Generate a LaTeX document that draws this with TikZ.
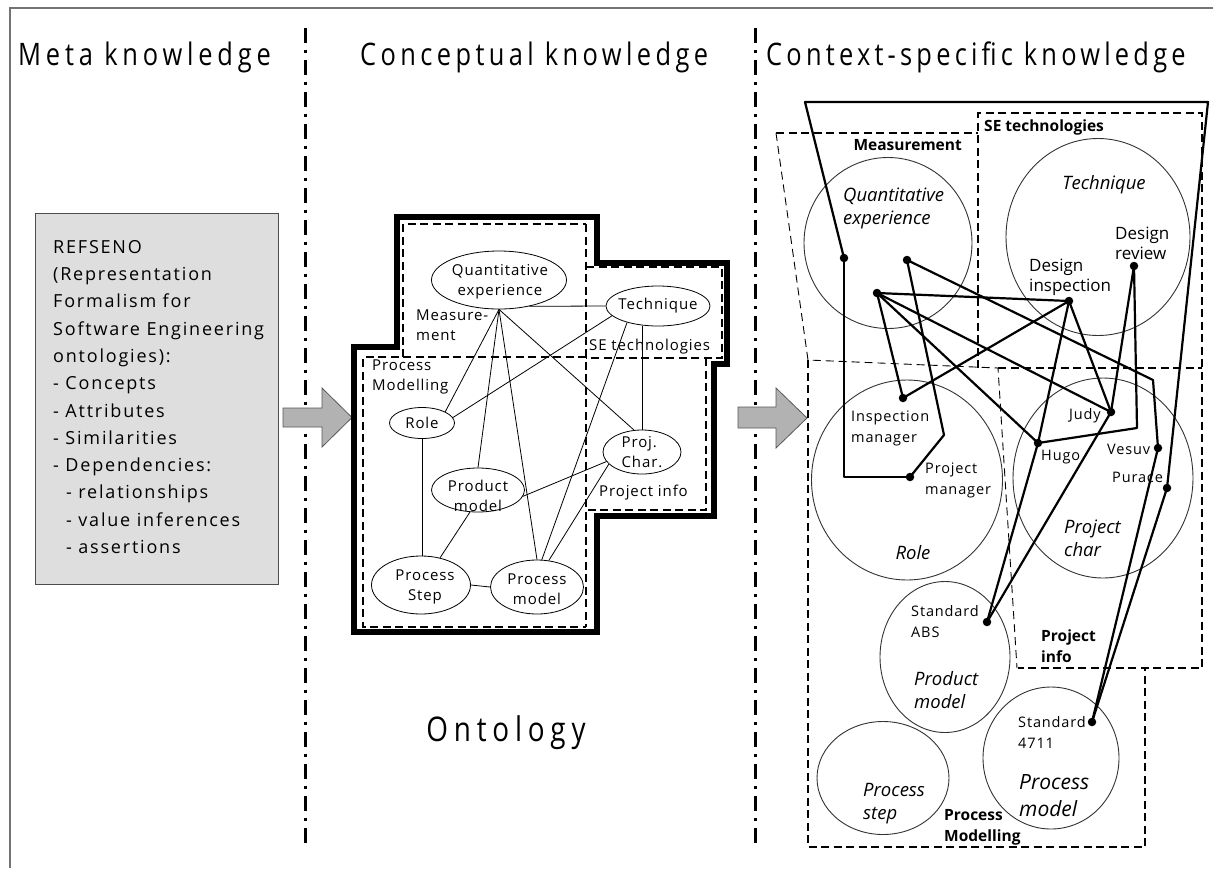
\documentclass[tikz,border=0pt]{standalone}
\usepackage{fontspec}
\setmainfont{Open Sans}
\setsansfont{Open Sans}
\newfontfamily\ttl[FakeStretch=0.82]{Open Sans}
\newfontfamily\lsp[LetterSpace=6]{Open Sans}
\newfontfamily\lspb[LetterSpace=10]{Open Sans}
\usetikzlibrary{shapes.geometric}
\tikzset{
 ell/.style={ellipse, draw=black, line width=0.8pt, inner sep=0pt},
 circ/.style={ellipse, draw=black!80, line width=0.9pt, inner sep=0pt},
 dot/.style={circle, fill=black, inner sep=0pt, minimum size=8.5pt},
 thk/.style={line width=2.2pt, line join=round},
 tdash/.style={line width=2pt, dash pattern=on 8pt off 4.5pt},
 ldash/.style={line width=0.9pt, dash pattern=on 8pt off 5pt},
 sepline/.style={line width=3pt, dash pattern=on 15pt off 7pt on 3pt off 7pt},
 txt/.style={inner sep=0pt, align=left},
 thin/.style={line width=0.8pt},
 blockarrow/.style={fill=black!30, draw=black!65, line width=0.8pt},
 ttlf/.style={font=\ttl\fontsize{31}{36}\selectfont},
 midf/.style={font=\lsp\fontsize{15}{20}\selectfont},
 itf/.style={font=\itshape\fontsize{18.5}{23}\selectfont},
 insf/.style={font=\lsp\fontsize{14.5}{21}\selectfont},
 desf/.style={font=\fontsize{17}{20}\selectfont},
 bldf/.style={font=\bfseries\fontsize{15.5}{21}\selectfont},
}
\begin{document}
\begin{tikzpicture}[x=1pt,y=-1pt]
\fill[white] (0,0) rectangle (1213,868);
\useasboundingbox (0,0) rectangle (1213,868);
% frame
\draw[black!55, line width=1.3pt] (1213,8) -- (10,8) -- (10,868);
% separators
\draw[sepline] (305,28) -- (305,846);
\draw[sepline] (755,28) -- (755,846);
% titles
\node[txt, ttlf, anchor=west] (t1) at (18,57) {\addfontfeatures{LetterSpace=15.5}Meta knowledge};
\node[txt, ttlf, anchor=west] (t2) at (360,57) {\addfontfeatures{LetterSpace=14.2}Conceptual knowledge};
\node[txt, ttlf, anchor=west] (t3) at (766,57) {\addfontfeatures{LetterSpace=13.6}Context-specific knowledge};

% left box
\node[draw=black!70, fill=black!13, line width=0.9pt, minimum width=243pt, minimum height=371pt, anchor=north west, inner sep=0pt] (box) at (35,213) {};
\node[txt, anchor=north west, font=\lspb\fontsize{18}{27.3}\selectfont] (boxt) at (53,240) {REFSENO\\(Representation\\Formalism for\\Software Engineering\\ontologies):\\- Concepts\\- Attributes\\- Similarities\\- Dependencies:\\\ \ - relationships\\\ \ - value inferences\\\ \ - assertions};

% block arrows
\draw[blockarrow] (283,408) -- (322,408) -- (322,388) -- (352,417.5) -- (322,447) -- (322,427) -- (283,427) -- cycle;
\draw[blockarrow] (738,407) -- (776,407) -- (776,388) -- (807,418) -- (776,448) -- (776,428) -- (738,428) -- cycle;

% ===== middle ontology =====
\draw[line width=5.5pt, line join=miter] (397,217) -- (597,217) -- (597,263) -- (727,263) -- (727,364) -- (714,364) -- (714,516) -- (597,516) -- (597,632) -- (354,632) -- (354,347) -- (397,347) -- cycle;
\draw[tdash] (403,357) -- (403,224) -- (586,224);
\draw[tdash] (586,224) -- (586,627);
\draw[tdash] (586,357) -- (363,357) -- (363,627) -- (586,627);
\draw[tdash] (586,267) -- (722,267) -- (722,358) -- (586,358);
\draw[tdash] (706,358) -- (706,510) -- (586,510);

\node[ell, minimum width=135pt, minimum height=58pt] (QE) at (499,280) {};
\node[ell, minimum width=104pt, minimum height=40pt] (TE) at (658,306) {};
\node[ell, minimum width=65pt, minimum height=31pt] (RO) at (422,423) {};
\node[ell, minimum width=78pt, minimum height=44pt] (PC) at (642,452) {};
\node[ell, minimum width=93pt, minimum height=44pt] (PM) at (478,490) {};
\node[ell, minimum width=99pt, minimum height=58pt] (PS) at (421,585) {};
\node[ell, minimum width=93pt, minimum height=54pt] (PR) at (537,587) {};

\node[txt, midf, align=center] (QEt) at (500,282) {Quantitative\\experience};
\node[txt, midf] (TEt) at (658,306) {Technique};
\node[txt, midf] (ROt) at (422,423) {Role};
\node[txt, midf] (PCt) at (642,452) {Proj.\\Char.};
\node[txt, midf, align=center] (PMt) at (478,496) {Product\\model};
\node[txt, midf, align=center] (PSt) at (425,587) {Process\\Step};
\node[txt, midf, align=center] (PRt) at (537,589) {Process\\model};

\node[txt, midf, anchor=north west] (lm) at (416,310) {Measure-\\ment};
\node[txt, midf, anchor=west] (lse) at (589,347) {SE technologies};
\node[txt, midf, anchor=north west] (lpm) at (372,360) {Process\\Modelling};
\node[txt, midf, anchor=west] (lpi) at (599,493) {Project info};
\node[txt, font=\ttl\fontsize{34}{40}\selectfont\addfontfeatures{LetterSpace=17}] (onto) at (506,733) {Ontology};

\draw[thin] (QE.-41) -- (TE.west);
\draw[thin] (QE.south) -- (RO.north east);
\draw[thin] (QE.south) -- (PM.north);
\draw[thin] (QE.south) -- (PR.north);
\draw[thin] (QE.south) -- (PC.110);
\draw[thin] (TE.192) -- (RO.10);
\draw[thin] (TE.208) -- (PR.80);
\draw[thin] (PC.north) -- (PC.north |- TE.south);
\draw[thin] (RO.south) -- (RO.south |- PS.north);
\draw[thin] (PM.250) -- (PS.55);
\draw[thin] (PS.east) -- (PR.west);
\draw[thin] (PM.-8) -- (PC.195);
\draw[thin] (PC.200) -- (PR.66);

% ===== right: context-specific =====
\node[circ, minimum width=168pt, minimum height=171pt] (cQE) at (888,243) {};
\node[circ, minimum width=184pt, minimum height=197pt] (cTE) at (1098,237) {};
\node[circ, minimum width=191pt, minimum height=200pt] (cRO) at (907,480) {};
\node[circ, minimum width=180pt, minimum height=200pt] (cPC) at (1103,478) {};
\node[circ, minimum width=130pt, minimum height=151pt] (cPM) at (945,657) {};
\node[circ, minimum width=132pt, minimum height=113pt] (cPS) at (883,778) {};
\node[circ, minimum width=136pt, minimum height=142pt] (cPR) at (1051,758) {};

% dashed regions
\draw[tdash] (776,133) -- (978,133);
\draw[ldash] (776,133) -- (808,360) -- (998,368) -- (1017,668);
\draw[tdash] (978,368) -- (978,113) -- (1202,113) -- (1202,668) -- (1018,668);
\draw[tdash] (998,368) -- (1202,368);
\draw[tdash] (808,360) -- (808,847) -- (1145,847) -- (1145,668);

% dots
\node[dot] (A) at (844,258) {};
\node[dot] (B) at (907,260) {};
\node[dot] (C) at (877,293) {};
\node[dot] (D) at (1069,301) {};
\node[dot] (E) at (1134,266) {};
\node[dot] (F) at (903,398) {};
\node[dot] (G) at (910,477) {};
\node[dot] (H) at (1111,412) {};
\node[dot] (I) at (1038,443) {};
\node[dot] (J) at (1158,448) {};
\node[dot] (K) at (1167,488) {};
\node[dot] (L) at (987,622) {};
\node[dot] (M) at (1092,722) {};
\coordinate (f1) at (805,102);
\coordinate (f2) at (1208,102);
\coordinate (bB) at (944,435);
\coordinate (bJ) at (1153,380);
\coordinate (bE) at (1137,428);

\draw[thk] (A.center) -- (f1) -- (f2) -- (K.center);
\draw[thk] (A.center) -- (A.center |- G.center) -- (G.center);
\draw[thk] (B.center) -- (bB) -- (G.center);
\draw[thk] (B.center) -- (bJ) -- (J.center);
\draw[thk] (C.center) -- (D.center);
\draw[thk] (C.center) -- (F.center);
\draw[thk] (C.center) -- (H.center);
\draw[thk] (C.center) -- (I.center);
\draw[thk] (F.center) -- (D.center);
\draw[thk] (D.center) -- (I.center);
\draw[thk] (D.center) -- (H.center);
\draw[thk] (E.center) -- (H.center);
\draw[thk] (E.center) -- (bE) -- (I.center);
\draw[thk] (H.center) -- (L.center);
\draw[thk] (I.center) -- (L.center);
\draw[thk] (K.center) -- (M.center);
\draw[thk] (J.center) -- (M.center);

% circle labels
\node[txt, itf, anchor=west] (xQE) at (843,208) {Quantitative\\experience};
\node[txt, itf] (xTE) at (1104,185) {Technique};
\node[txt, itf] (xRO) at (913,553) {Role};
\node[txt, itf, anchor=west] (xPC) at (1064,538) {Project\\char};
\node[txt, itf, anchor=west] (xPM) at (914,690) {Product\\model};
\node[txt, itf, anchor=west] (xPS) at (863,804) {Process\\step};
\node[txt, font=\itshape\fontsize{21}{27}\selectfont, anchor=west] (xPR) at (1019,796) {Process\\model};

% instance labels
\node[txt, desf, anchor=west] (iDR) at (1115,243) {Design\\review};
\node[txt, desf, anchor=west] (iDI) at (1029,277) {Design\\inspection};
\node[txt, insf, anchor=west] (iIM) at (851,428) {Inspection\\manager};
\node[txt, insf, anchor=west] (iPM) at (925,480) {Project\\manager};
\node[txt, insf, anchor=west] (iJu) at (1069,416) {Judy};
\node[txt, insf, anchor=west] (iHu) at (1041,457) {Hugo};
\node[txt, insf, anchor=west] (iVe) at (1107,449) {Vesuv};
\node[txt, insf, anchor=west] (iPu) at (1112,477) {Purace};
\node[txt, insf, anchor=west] (iSA) at (911,622) {Standard\\ABS};
\node[txt, insf, anchor=west] (iS4) at (1018,732) {Standard\\4711};

% region labels
\node[txt, bldf, anchor=east] (rM) at (962,145) {Measurement};
\node[txt, bldf, anchor=west] (rSE) at (984,127) {SE technologies};
\node[txt, bldf, anchor=west] (rPI) at (1041,646) {Project\\info};
\node[txt, bldf, anchor=west] (rPM) at (944,827) {Process\\Modelling};
\end{tikzpicture}
\end{document}
